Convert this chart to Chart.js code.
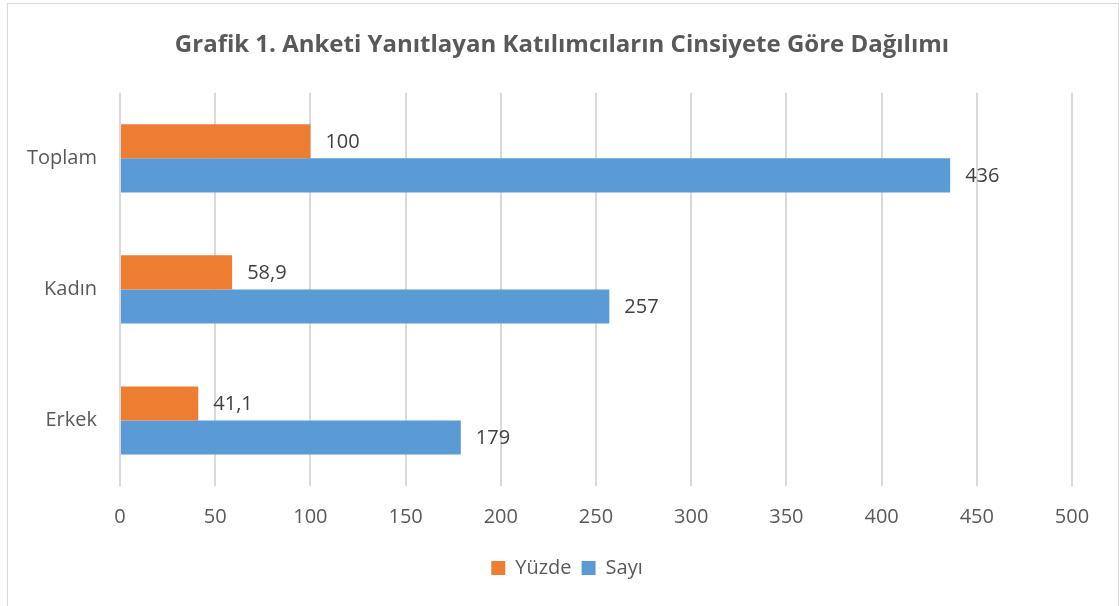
<!DOCTYPE html>
<html>
<head>
<meta charset="utf-8">
<script src="https://cdn.jsdelivr.net/npm/chart.js@4/dist/chart.umd.min.js"></script>
<style>
  html, body { margin: 0; padding: 0; background: #fff; }
  #wrap { position: relative; width: 1119px; height: 606px; }
  #frame { position: absolute; left: 7px; top: 3px; width: 1110px; height: 610px; border: 1px solid #d9d9d9; pointer-events: none; }
</style>
</head>
<body>
<div id="wrap">
  <canvas id="chart" width="1119" height="606"></canvas>
  <div id="frame"></div>
</div>
<script>
const categories = ['Toplam', 'Kadın', 'Erkek']
const yuzdeValues = [100, 58.9, 41.1]
const sayiValues = [436, 257, 179]
const xTicks = [0, 50, 100, 150, 200, 250, 300, 350, 400, 450, 500]

const FONT = '"Open Sans", sans-serif'

// writes the value next to the end of each bar
const barLabels = {
  id: 'barLabels',
  afterDatasetsDraw(chart) {
    const ctx = chart.ctx
    ctx.save()
    ctx.font = '20px ' + FONT
    ctx.fillStyle = '#404040'
    ctx.textBaseline = 'middle'
    ctx.textAlign = 'left'
    chart.data.datasets.forEach((ds, i) => {
      const meta = chart.getDatasetMeta(i)
      meta.data.forEach((bar, j) => {
        const txt = String(ds.data[j]).replace('.', ',')
        ctx.fillText(txt, bar.x + 15, bar.y + 1)
      })
    })
    ctx.restore()
  }
}

// title and legend sit centred on the whole frame, not on the plot
const centreBoxes = {
  id: 'centreBoxes',
  afterLayout(chart) {
    chart.titleBlock.left += 26
    chart.titleBlock.right += 26
    chart.legend.left += 31
    chart.legend.right += 31
  }
}

const ctx = document.getElementById('chart').getContext('2d')
new Chart(ctx, {
  type: 'bar',
  data: {
    labels: categories,
    datasets: [
      {
        label: 'Yüzde',
        data: yuzdeValues,
        backgroundColor: '#ED7D31',
        categoryPercentage: 0.52,
        barPercentage: 1
      },
      {
        label: 'Sayı',
        data: sayiValues,
        backgroundColor: '#5B9BD5',
        categoryPercentage: 0.52,
        barPercentage: 1
      }
    ]
  },
  options: {
    indexAxis: 'y',
    responsive: false,
    animation: false,
    layout: { padding: { left: 0, right: 47, top: 0, bottom: 18 } },
    scales: {
      x: {
        min: 0,
        max: 500,
        afterBuildTicks: s => { s.ticks = xTicks.map(v => ({ value: v })) },
        grid: { color: '#d9d9d9', lineWidth: 2, drawTicks: false },
        border: { display: false },
        ticks: { color: '#595959', font: { family: FONT, size: 20 }, padding: 19 }
      },
      y: {
        afterFit: s => { s.width = 120 },
        grid: { display: false },
        border: { display: false },
        ticks: { color: '#595959', font: { family: FONT, size: 20 }, padding: 15 }
      }
    },
    plugins: {
      title: {
        display: true,
        text: 'Grafik 1. Anketi Yanıtlayan Katılımcıların Cinsiyete Göre Dağılımı',
        color: '#595959',
        font: { family: FONT, size: 24, weight: 'bold' },
        padding: { top: 31, bottom: 33 }
      },
      legend: {
        position: 'bottom',
        labels: {
          color: '#595959',
          font: { family: FONT, size: 20 },
          boxWidth: 14,
          boxHeight: 14,
          padding: 10
        }
      },
      tooltip: { enabled: false }
    }
  },
  plugins: [barLabels, centreBoxes]
})
</script>
</body>
</html>
